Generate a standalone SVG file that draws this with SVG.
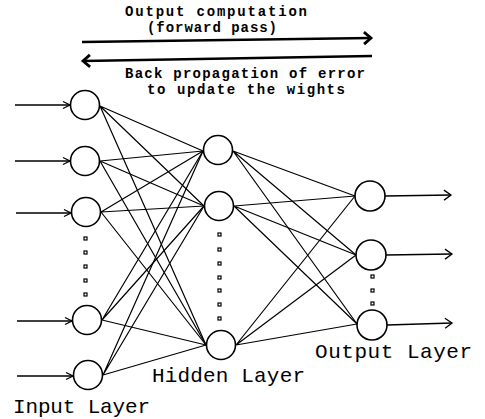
<svg xmlns="http://www.w3.org/2000/svg" width="485" height="419" viewBox="0 0 485 419">
<style>
.node{fill:#fff;stroke:#000;stroke-width:1.6}
.edge{stroke:#000;stroke-width:1.2;fill:none}
.io{stroke:#000;stroke-width:1.3;fill:none}
.big{stroke:#000;stroke-width:2.6;fill:none}
.dot{fill:#fff;stroke:#000;stroke-width:1.2}
.t1{font-family:"Liberation Mono",monospace;font-weight:bold;font-size:14px;fill:#000}
.t2{font-family:"Liberation Mono",monospace;font-size:21px;fill:#000}
</style>
<defs>
<marker id="inHead" markerUnits="userSpaceOnUse" markerWidth="10" markerHeight="10" refX="8" refY="5" orient="auto">
<path d="M1,1.5 L8,5 L1,8.5" fill="none" stroke="#000" stroke-width="1.3"/>
</marker>
<marker id="outHead" markerUnits="userSpaceOnUse" markerWidth="12" markerHeight="12" refX="9" refY="6" orient="auto">
<path d="M2,1 L9,6 L2,11" fill="none" stroke="#000" stroke-width="1.3"/>
</marker>
<marker id="bigHead" markerUnits="userSpaceOnUse" markerWidth="14" markerHeight="16" refX="10" refY="8" orient="auto">
<path d="M3,2 L10,8 L3,14" fill="none" stroke="#000" stroke-width="2.8"/>
</marker>
</defs>

<g id="connectors">
<path class="big" d="M82,42 L371,38" marker-end="url(#bigHead)"/>
<path class="big" d="M372,56 L83,61" marker-end="url(#bigHead)"/>
<path class="io" d="M15,105 L70,105" marker-end="url(#inHead)"/>
<path class="io" d="M15,161 L70,161" marker-end="url(#inHead)"/>
<path class="io" d="M16,213 L71,213" marker-end="url(#inHead)"/>
<path class="io" d="M17,321 L72,321" marker-end="url(#inHead)"/>
<path class="io" d="M17,376 L73,376" marker-end="url(#inHead)"/>
<path class="io" d="M385,196 L451,195" marker-end="url(#outHead)"/>
<path class="io" d="M386,255 L452,254" marker-end="url(#outHead)"/>
<path class="io" d="M387,325 L452,323" marker-end="url(#outHead)"/>
<path class="edge" d="M100,106 L203,151 M100,106 L204,206 M100,106 L206,345"/>
<path class="edge" d="M100,161 L203,151 M100,161 L204,206 M100,161 L206,345"/>
<path class="edge" d="M101,212 L203,151 M101,212 L204,206 M101,212 L206,345"/>
<path class="edge" d="M102,320 L203,151 M102,320 L204,206 M102,320 L206,345"/>
<path class="edge" d="M103,375 L203,151 M103,375 L204,206 M103,375 L206,345"/>
<path class="edge" d="M233,151 L355,196 M233,151 L356,255 M233,151 L357,324"/>
<path class="edge" d="M234,206 L355,196 M234,206 L356,255 M234,206 L357,324"/>
<path class="edge" d="M236,345 L355,196 M236,345 L356,255 M236,345 L357,324"/>
</g>

<g id="input1"><circle class="node" cx="85" cy="105" r="14.5"/></g>
<g id="input2"><circle class="node" cx="85" cy="161" r="14.5"/></g>
<g id="input3"><circle class="node" cx="86" cy="212" r="14.5"/></g>
<g id="input4"><circle class="node" cx="87" cy="320" r="14.5"/></g>
<g id="input5"><circle class="node" cx="88" cy="375" r="14.5"/></g>
<g id="hidden1"><circle class="node" cx="218" cy="150" r="14.5"/></g>
<g id="hidden2"><circle class="node" cx="219" cy="206" r="14.5"/></g>
<g id="hidden3"><circle class="node" cx="221" cy="345" r="14.5"/></g>
<g id="output1"><circle class="node" cx="370" cy="196" r="15"/></g>
<g id="output2"><circle class="node" cx="371" cy="255" r="15"/></g>
<g id="output3"><circle class="node" cx="372" cy="325" r="15"/></g>

<g id="dots">
<rect class="dot" x="84" y="237" width="3" height="3"/>
<rect class="dot" x="84" y="251" width="3" height="3"/>
<rect class="dot" x="84" y="265" width="3" height="3"/>
<rect class="dot" x="84" y="279" width="3" height="3"/>
<rect class="dot" x="84" y="293" width="3" height="3"/>
<rect class="dot" x="218" y="233" width="3" height="3"/>
<rect class="dot" x="218" y="248" width="3" height="3"/>
<rect class="dot" x="218" y="262" width="3" height="3"/>
<rect class="dot" x="218" y="276" width="3" height="3"/>
<rect class="dot" x="218" y="289" width="3" height="3"/>
<rect class="dot" x="218" y="303" width="3" height="3"/>
<rect class="dot" x="218" y="317" width="3" height="3"/>
<rect class="dot" x="371" y="275" width="3" height="3"/>
<rect class="dot" x="371" y="289" width="3" height="3"/>
<rect class="dot" x="371" y="302" width="3" height="3"/>
</g>

<g id="labels">
<text class="t1" x="216" y="16" text-anchor="middle" textLength="182">Output computation</text>
<text class="t1" x="212" y="32" text-anchor="middle" textLength="130">(forward pass)</text>
<text class="t1" x="245" y="78" text-anchor="middle" textLength="240">Back propagation of error</text>
<text class="t1" x="246" y="94" text-anchor="middle" textLength="198">to update the wights</text>
<text class="t2" x="13" y="413" textLength="137">Input Layer</text>
<text class="t2" x="152" y="382" textLength="153">Hidden Layer</text>
<text class="t2" x="315" y="358" textLength="157">Output Layer</text>
</g>
</svg>
